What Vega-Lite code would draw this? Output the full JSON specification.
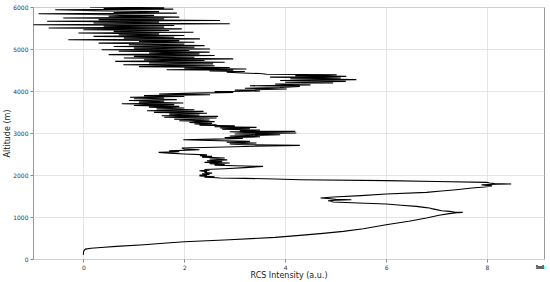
{
  "$schema": "https://vega.github.io/schema/vega-lite/v6.json",
  "width": 511,
  "height": 252,
  "autosize": "none",
  "padding": {"left": 33, "top": 7, "right": 6, "bottom": 23},
  "background": "white",
  "config": {
    "font": "DejaVu Sans",
    "view": {"stroke": "#999999", "strokeWidth": 1},
    "axis": {
      "gridColor": "#dddddd",
      "gridWidth": 0.8,
      "domain": false,
      "tickColor": "#888888",
      "tickSize": 3,
      "labelFontSize": 6,
      "labelColor": "#333333",
      "titleFontSize": 8,
      "titleFontWeight": "normal",
      "titleColor": "#222222"
    }
  },
  "data": {"values": [
    {"alt":100,"rcs":0.0},{"alt":150,"rcs":0.0},{"alt":200,"rcs":0.01},{"alt":235,"rcs":0.04},{"alt":255,"rcs":0.15},{"alt":275,"rcs":0.35},{"alt":300,"rcs":0.65},{"alt":340,"rcs":1.2},{"alt":380,"rcs":1.65},{"alt":412,"rcs":2.0},{"alt":460,"rcs":2.9},{"alt":514,"rcs":3.8},{"alt":563,"rcs":4.29},{"alt":610,"rcs":4.75},{"alt":657,"rcs":5.15},{"alt":720,"rcs":5.55},{"alt":817,"rcs":6.0},{"alt":900,"rcs":6.45},{"alt":976,"rcs":6.8},{"alt":1040,"rcs":7.05},{"alt":1080,"rcs":7.25},{"alt":1100,"rcs":7.4},{"alt":1110,"rcs":7.52},{"alt":1120,"rcs":7.35},{"alt":1134,"rcs":7.26},{"alt":1150,"rcs":7.1},{"alt":1175,"rcs":7.0},{"alt":1200,"rcs":6.9},{"alt":1214,"rcs":6.86},{"alt":1230,"rcs":6.75},{"alt":1253,"rcs":6.6},{"alt":1280,"rcs":6.3},{"alt":1309,"rcs":6.0},{"alt":1335,"rcs":5.45},{"alt":1357,"rcs":4.95},{"alt":1375,"rcs":4.9},{"alt":1388,"rcs":4.85},{"alt":1400,"rcs":5.0},{"alt":1412,"rcs":5.31},{"alt":1420,"rcs":5.0},{"alt":1440,"rcs":4.85},{"alt":1452,"rcs":4.7},{"alt":1476,"rcs":4.95},{"alt":1510,"rcs":5.5},{"alt":1547,"rcs":6.0},{"alt":1586,"rcs":6.8},{"alt":1620,"rcs":7.1},{"alt":1650,"rcs":7.39},{"alt":1690,"rcs":7.7},{"alt":1714,"rcs":7.95},{"alt":1740,"rcs":8.1},{"alt":1760,"rcs":7.95},{"alt":1769,"rcs":7.89},{"alt":1780,"rcs":8.2},{"alt":1786,"rcs":8.48},{"alt":1795,"rcs":8.15},{"alt":1810,"rcs":8.05},{"alt":1825,"rcs":8.0},{"alt":1845,"rcs":7.0},{"alt":1865,"rcs":6.0},{"alt":1886,"rcs":4.29},{"alt":1905,"rcs":3.8},{"alt":1920,"rcs":3.2},{"alt":1929,"rcs":2.71},
    {"alt":1940,"rcs":2.55},{"alt":1950,"rcs":2.4},{"alt":1960,"rcs":2.6},{"alt":1975,"rcs":2.3},{"alt":1990,"rcs":2.45},{"alt":2000,"rcs":2.3},{"alt":2015,"rcs":2.5},{"alt":2030,"rcs":2.35},{"alt":2045,"rcs":2.55},{"alt":2060,"rcs":2.4},{"alt":2080,"rcs":2.45},{"alt":2100,"rcs":2.3},{"alt":2115,"rcs":2.5},{"alt":2130,"rcs":2.4},{"alt":2150,"rcs":2.8},{"alt":2175,"rcs":3.2},{"alt":2205,"rcs":3.56},{"alt":2220,"rcs":3.0},{"alt":2235,"rcs":2.6},{"alt":2250,"rcs":2.8},{"alt":2270,"rcs":2.5},{"alt":2285,"rcs":2.9},{"alt":2300,"rcs":2.4},{"alt":2320,"rcs":2.75},{"alt":2340,"rcs":2.45},{"alt":2360,"rcs":2.85},{"alt":2380,"rcs":2.5},{"alt":2405,"rcs":2.8},{"alt":2425,"rcs":2.35},{"alt":2443,"rcs":2.55},{"alt":2460,"rcs":2.31},{"alt":2480,"rcs":2.45},{"alt":2500,"rcs":2.0},{"alt":2520,"rcs":1.7},{"alt":2538,"rcs":1.49},{"alt":2555,"rcs":1.9},{"alt":2575,"rcs":1.7},{"alt":2600,"rcs":2.3},{"alt":2620,"rcs":2.0},{"alt":2642,"rcs":1.95},{"alt":2660,"rcs":2.6},{"alt":2680,"rcs":3.2},{"alt":2705,"rcs":4.29},{"alt":2720,"rcs":3.2},{"alt":2740,"rcs":2.9},{"alt":2762,"rcs":3.43},{"alt":2780,"rcs":2.84},{"alt":2800,"rcs":3.3},{"alt":2820,"rcs":2.5},{"alt":2840,"rcs":1.98},{"alt":2855,"rcs":2.6},{"alt":2870,"rcs":3.16},{"alt":2890,"rcs":2.8},{"alt":2910,"rcs":3.5},{"alt":2930,"rcs":2.9},{"alt":2960,"rcs":3.9},{"alt":2975,"rcs":3.0},{"alt":2990,"rcs":3.6},{"alt":3000,"rcs":4.22},{"alt":3015,"rcs":3.2},{"alt":3030,"rcs":2.9},{"alt":3038,"rcs":4.2},{"alt":3050,"rcs":3.1},{"alt":3070,"rcs":3.5},{"alt":3090,"rcs":2.75},{"alt":3105,"rcs":3.3},{"alt":3120,"rcs":2.71},{"alt":3135,"rcs":3.43},{"alt":3150,"rcs":2.6},{"alt":3170,"rcs":3.0},{"alt":3185,"rcs":2.3},{"alt":3197,"rcs":2.64},{"alt":3215,"rcs":2.2},{"alt":3230,"rcs":2.55},{"alt":3250,"rcs":2.1},{"alt":3270,"rcs":2.6},{"alt":3290,"rcs":1.9},{"alt":3310,"rcs":2.5},{"alt":3330,"rcs":1.8},{"alt":3357,"rcs":2.64},{"alt":3375,"rcs":1.6},{"alt":3395,"rcs":2.67},{"alt":3410,"rcs":1.55},{"alt":3430,"rcs":2.3},{"alt":3450,"rcs":1.7},{"alt":3470,"rcs":2.45},{"alt":3490,"rcs":1.4},{"alt":3514,"rcs":2.38},{"alt":3530,"rcs":1.26},{"alt":3555,"rcs":2.2},{"alt":3575,"rcs":1.45},{"alt":3595,"rcs":2.0},{"alt":3615,"rcs":1.3},{"alt":3635,"rcs":1.9},{"alt":3655,"rcs":1.0},{"alt":3675,"rcs":1.8},{"alt":3695,"rcs":0.76},{"alt":3714,"rcs":1.98},{"alt":3735,"rcs":1.1},{"alt":3755,"rcs":1.6},{"alt":3775,"rcs":0.9},{"alt":3795,"rcs":1.85},{"alt":3815,"rcs":1.0},{"alt":3833,"rcs":1.6},{"alt":3850,"rcs":0.92},{"alt":3870,"rcs":2.0},{"alt":3890,"rcs":1.2},{"alt":3912,"rcs":2.51},{"alt":3930,"rcs":1.5},{"alt":3950,"rcs":2.2},{"alt":3967,"rcs":2.97},{"alt":3985,"rcs":2.6},{"alt":4000,"rcs":3.5},{"alt":4020,"rcs":3.0},{"alt":4048,"rcs":4.03},{"alt":4065,"rcs":3.2},{"alt":4085,"rcs":3.9},{"alt":4110,"rcs":4.29},{"alt":4125,"rcs":3.3},{"alt":4145,"rcs":4.5},{"alt":4165,"rcs":3.8},{"alt":4190,"rcs":4.95},{"alt":4210,"rcs":4.0},{"alt":4230,"rcs":5.2},{"alt":4250,"rcs":3.9},{"alt":4270,"rcs":5.41},{"alt":4290,"rcs":4.1},{"alt":4310,"rcs":5.1},{"alt":4330,"rcs":3.7},{"alt":4348,"rcs":5.21},{"alt":4365,"rcs":4.2},{"alt":4388,"rcs":5.02},{"alt":4400,"rcs":3.63},{"alt":4415,"rcs":3.5},{"alt":4428,"rcs":3.16},{"alt":4445,"rcs":2.84},{"alt":4465,"rcs":3.2},{"alt":4480,"rcs":2.5},{"alt":4495,"rcs":2.97},{"alt":4507,"rcs":1.65},{"alt":4525,"rcs":3.23},{"alt":4540,"rcs":2.0},{"alt":4560,"rcs":2.9},{"alt":4580,"rcs":1.1},{"alt":4600,"rcs":2.6},{"alt":4626,"rcs":0.79},{"alt":4645,"rcs":2.57},{"alt":4665,"rcs":1.3},{"alt":4685,"rcs":2.8},{"alt":4705,"rcs":0.63},{"alt":4725,"rcs":2.4},{"alt":4745,"rcs":1.2},{"alt":4765,"rcs":2.97},{"alt":4785,"rcs":0.8},{"alt":4805,"rcs":2.2},{"alt":4825,"rcs":1.0},{"alt":4845,"rcs":2.6},{"alt":4865,"rcs":0.5},{"alt":4885,"rcs":2.3},{"alt":4905,"rcs":1.3},{"alt":4925,"rcs":2.5},{"alt":4945,"rcs":0.7},{"alt":4965,"rcs":2.1},{"alt":4983,"rcs":0.36},{"alt":5000,"rcs":2.51},{"alt":5020,"rcs":1.0},{"alt":5040,"rcs":2.2},{"alt":5060,"rcs":0.6},{"alt":5080,"rcs":2.4},{"alt":5100,"rcs":0.9},{"alt":5120,"rcs":2.0},{"alt":5140,"rcs":0.3},{"alt":5160,"rcs":2.2},{"alt":5180,"rcs":1.1},{"alt":5200,"rcs":1.9},{"alt":5221,"rcs":-0.3},{"alt":5240,"rcs":2.31},{"alt":5260,"rcs":0.8},{"alt":5280,"rcs":1.8},{"alt":5300,"rcs":0.2},{"alt":5320,"rcs":2.0},{"alt":5340,"rcs":0.7},{"alt":5360,"rcs":1.5},{"alt":5380,"rcs":-0.1},{"alt":5400,"rcs":2.18},{"alt":5420,"rcs":0.6},{"alt":5440,"rcs":1.7},{"alt":5460,"rcs":0.0},{"alt":5480,"rcs":1.95},{"alt":5500,"rcs":-0.69},{"alt":5520,"rcs":1.6},{"alt":5540,"rcs":0.4},{"alt":5560,"rcs":1.8},{"alt":5579,"rcs":-0.99},{"alt":5600,"rcs":2.9},{"alt":5620,"rcs":0.2},{"alt":5640,"rcs":1.5},{"alt":5659,"rcs":-0.72},{"alt":5680,"rcs":2.71},{"alt":5700,"rcs":0.3},{"alt":5720,"rcs":1.6},{"alt":5738,"rcs":-0.4},{"alt":5760,"rcs":1.9},{"alt":5780,"rcs":0.5},{"alt":5800,"rcs":1.4},{"alt":5820,"rcs":0.1},{"alt":5840,"rcs":-0.89},{"alt":5855,"rcs":1.85},{"alt":5870,"rcs":0.6},{"alt":5890,"rcs":1.5},{"alt":5910,"rcs":0.2},{"alt":5935,"rcs":-0.56},{"alt":5950,"rcs":1.78},{"alt":5965,"rcs":0.4},{"alt":5980,"rcs":1.6},{"alt":6000,"rcs":0.13}
  ]},
  "layer": [
    {
      "mark": {"type": "line", "color": "black", "strokeWidth": 1.1, "clip": true},
      "encoding": {
        "x": {"field": "rcs", "type": "quantitative",
              "scale": {"domain": [-1.0, 9.13], "nice": false, "zero": false},
              "axis": {"values": [0, 2, 4, 6, 8], "format": "d", "title": "RCS Intensity (a.u.)", "labelPadding": 2, "titlePadding": 1}},
        "y": {"field": "alt", "type": "quantitative",
              "scale": {"domain": [0, 6000], "nice": false},
              "axis": {"values": [0, 1000, 2000, 3000, 4000, 5000, 6000], "format": "d", "title": "Altitude (m)", "labelPadding": 2, "titlePadding": 1}},
        "order": {"field": "alt", "type": "quantitative"}
      }
    },
    {
      "mark": {"type": "text", "fontSize": 4.5, "color": "#666666", "align": "center", "baseline": "middle"},
      "encoding": {
        "x": {"datum": 9.05},
        "y": {"datum": -220},
        "text": {"value": "1e4"}
      }
    }
  ]
}
